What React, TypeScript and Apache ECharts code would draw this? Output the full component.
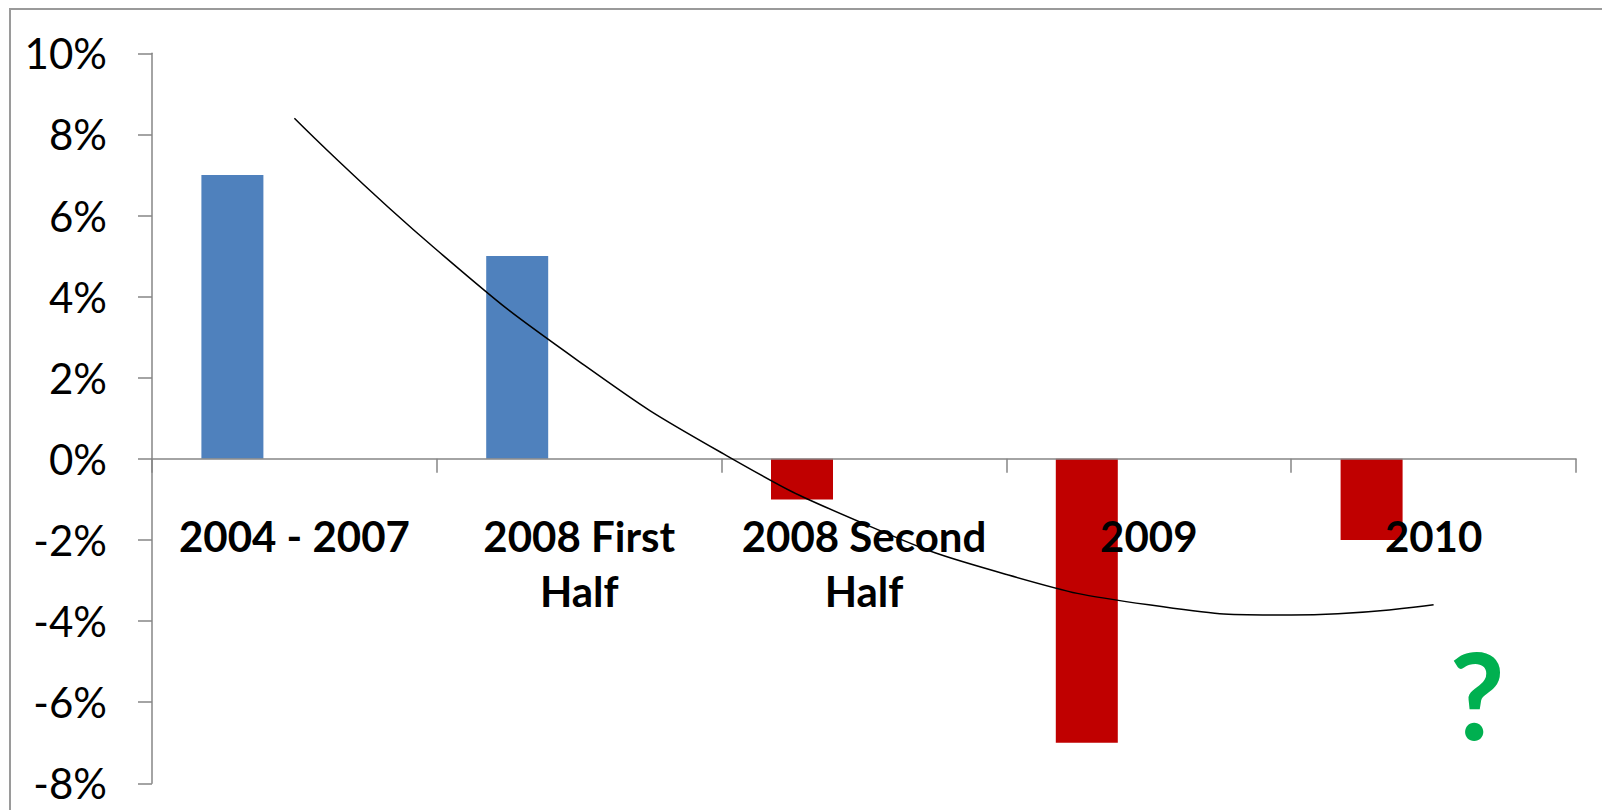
import React, { useEffect, useRef } from "react";
import * as echarts from "echarts";

// Period categories along the bottom axis
const categories = ["2004 - 2007", "2008 First Half", "2008 Second Half", "2009", "2010"];
// Growth per period, in percent
const growth = [7, 5, -1, -7, -2];
// Trend curve samples (position on the category scale, percent)
const trendX = [1, 1.5, 2, 2.5, 3, 3.5, 4, 4.5, 5];
const trendY = [8.4, 5.15, 2.4, 0.15, -1.6, -2.85, -3.6, -3.85, -3.6];
// Value axis ticks
const yMin = -8;
const yMax = 10;
const yStep = 2;

const POS = "#4F81BD";
const NEG = "#C00000";
const AXIS = "#868686";
const FONT = "Lato, 'Open Sans', sans-serif";

const W = 1602;
const H = 810;
const GRID = { left: 152, right: 26, top: 53.3, bottom: 26.7 };

export default function App() {
  const ref = useRef<HTMLDivElement>(null);

  useEffect(() => {
    if (!ref.current) return;
    const chart = echarts.init(ref.current, null, { renderer: "svg" });
    const empty = categories.map(() => "-");

    // Lift the category axis from the grid bottom up to the zero line
    const plotH = H - GRID.top - GRID.bottom;
    const zeroOffset = -(plotH * (0 - yMin)) / (yMax - yMin);

    chart.setOption({
      animation: false,
      backgroundColor: "#ffffff",
      grid: {
        ...GRID,
        containLabel: false,
        outerBoundsMode: "none",
      },
      xAxis: [
        {
          type: "category",
          data: categories,
          z: 3,
          position: "bottom",
          offset: zeroOffset,
          axisLine: { onZero: false, lineStyle: { color: AXIS, width: 1.5 } },
          axisTick: { show: true, length: 14, lineStyle: { color: AXIS, width: 1.5 } },
          axisLabel: {
            interval: 0,
            margin: 50,
            color: "#000",
            fontFamily: FONT,
            fontWeight: "bold",
            fontSize: 42,
            lineHeight: 55,
            formatter: (v: string) => v.replace(" Half", "\nHalf"),
          },
          splitLine: { show: false },
        },
        {
          type: "value",
          min: 0.5,
          max: 5.5,
          show: false,
          position: "top",
        },
      ],
      yAxis: {
        type: "value",
        min: yMin,
        max: yMax,
        interval: yStep,
        axisLine: { show: true, onZero: false, lineStyle: { color: AXIS, width: 1.5 } },
        axisTick: { show: true, length: 14, lineStyle: { color: AXIS, width: 1.5 } },
        axisLabel: {
          margin: 45,
          color: "#000",
          fontFamily: FONT,
          fontSize: 42,
          formatter: (v: number) => `${v}%`,
        },
        splitLine: { show: false },
      },
      series: [
        {
          type: "bar",
          name: "Growth",
          data: growth,
          barWidth: 62,
          barGap: "0%",
          z: 1,
          itemStyle: {
            color: (p: any) => (p.value >= 0 ? POS : NEG),
          },
        },
        { type: "bar", name: "", data: empty, barWidth: 62, barGap: "0%", z: 1 },
        { type: "bar", name: "", data: empty, barWidth: 62, barGap: "0%", z: 1 },
        {
          type: "line",
          name: "Trend",
          xAxisIndex: 1,
          data: trendX.map((x, i) => [x, trendY[i]]),
          smooth: true,
          symbol: "none",
          z: 4,
          lineStyle: { color: "#000", width: 1.5 },
        },
      ],
      graphic: [
        {
          type: "rect",
          shape: { x: 10, y: 9, width: 1700, height: 900 },
          style: { fill: "none", stroke: "#9a9a9a", lineWidth: 2 },
          silent: true,
        },
        {
          type: "text",
          x: 1477,
          y: 694,
          style: {
            text: "?",
            fill: "#00B050",
            font: `bold 120px ${FONT}`,
            align: "center",
            verticalAlign: "middle",
          },
        },
      ],
    });

    return () => chart.dispose();
  }, []);

  return (
    <div
      ref={ref}
      style={{ position: "fixed", left: 0, top: 0, width: W, height: H }}
    />
  );
}
